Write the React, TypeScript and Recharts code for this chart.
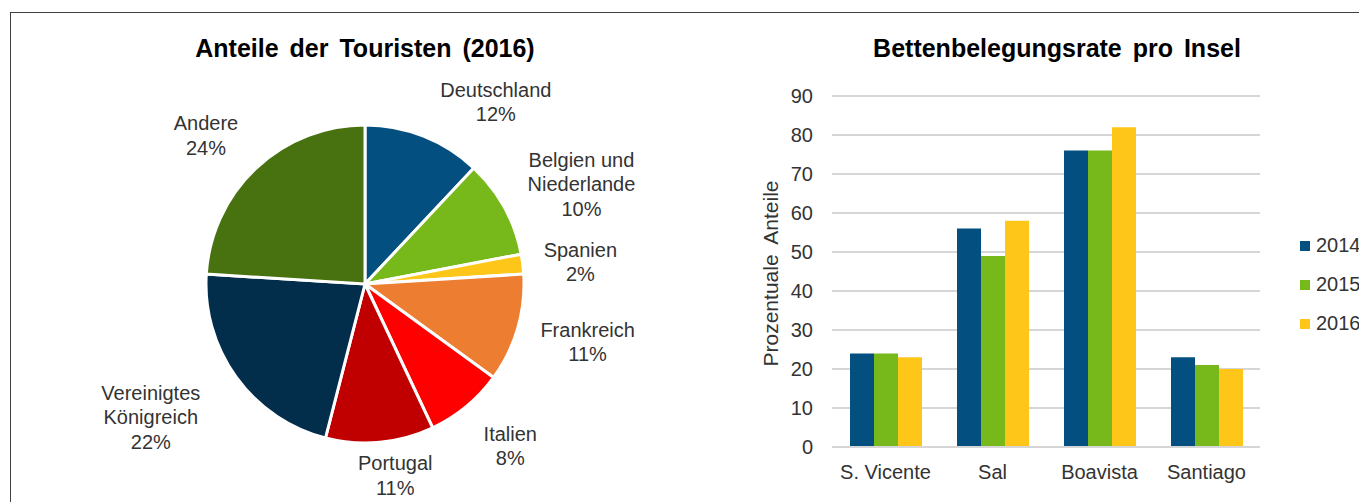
import React from 'react';
import { PieChart, Pie, Cell, BarChart, Bar, XAxis, YAxis, CartesianGrid, Legend } from 'recharts';

// Anteile der Touristen (2016)
const countries = [
  'Deutschland',
  'Belgien und\nNiederlande',
  'Spanien',
  'Frankreich',
  'Italien',
  'Portugal',
  'Vereinigtes\nKönigreich',
  'Andere'
];
const touristShares = [12, 10, 2, 11, 8, 11, 22, 24];
const countryColors = ['#034F80', '#77B81B', '#FFC61A', '#ED7D31', '#FF0000', '#C00000', '#022E4C', '#48720F'];

// Bettenbelegungsrate pro Insel
const islands = ['S. Vicente', 'Sal', 'Boavista', 'Santiago'];
const years = ['2014', '2015', '2016'];
const occupancy2014 = [24, 56, 76, 23];
const occupancy2015 = [24, 49, 76, 21];
const occupancy2016 = [23, 58, 82, 20];
const yearColors = ['#034F80', '#77B81B', '#FFC61A'];
const yTicks = [0, 10, 20, 30, 40, 50, 60, 70, 80, 90];

// small per-slice tweaks so labels sit like Excel's "best fit"
const labelNudge = [
  [42, 11],
  [5, 6],
  [-3, 4],
  [-4, 0],
  [5, 2],
  [9, -15],
  [-19, 4],
  [-12, 3]
];

const FONT = '"Liberation Sans", Arial, sans-serif';
const TEXT = '#333333';
const RADIAN = Math.PI / 180;

const pieData = countries.map((name, i) => ({ name, value: touristShares[i] }));
const seriesByYear = [occupancy2014, occupancy2015, occupancy2016];
const barData = islands.map((island, i) => {
  const row: { [key: string]: string | number } = { island };
  years.forEach((y, j) => {
    row[y] = seriesByYear[j][i];
  });
  return row;
});

const renderPieLabel = (props: any) => {
  const { cx, cy, midAngle, outerRadius, index, name, value } = props;
  const lines = [...String(name).split('\n'), `${value}%`];
  const cos = Math.cos(-midAngle * RADIAN);
  const sin = Math.sin(-midAngle * RADIAN);
  const r = outerRadius + 24;
  const maxLen = Math.max(...lines.map((l) => l.length));
  const hw = maxLen * 5.3;
  const hh = lines.length * 12.25;
  const [nx, ny] = labelNudge[index] || [0, 0];
  const x = cx + r * cos + cos * hw + nx;
  const y = cy + r * sin + sin * hh + ny;
  const lh = 24.5;
  return (
    <text
      key={`lbl-${index}`}
      x={x}
      y={y}
      textAnchor="middle"
      fill={TEXT}
      style={{ fontFamily: FONT, fontSize: 20 }}
    >
      {lines.map((l, i) => (
        <tspan key={i} x={x} y={y + (i - (lines.length - 1) / 2) * lh} dominantBaseline="central">
          {l}
        </tspan>
      ))}
    </text>
  );
};

const renderLegend = (props: any) => {
  const { payload = [] } = props;
  return (
    <div style={{ fontFamily: FONT, fontSize: 20, color: TEXT }}>
      {payload.map((entry: any) => (
        <div key={entry.value} style={{ display: 'flex', alignItems: 'center', height: 39, whiteSpace: 'nowrap' }}>
          <span style={{ width: 10, height: 10, background: entry.color, marginRight: 6, flex: 'none' }} />
          <span>{entry.value}</span>
        </div>
      ))}
    </div>
  );
};

const renderYLabel = (props: any) => {
  const vb = props.viewBox || { x: 0, y: 96, width: 92, height: 351 };
  const x = vb.x + 30;
  const y = vb.y + vb.height / 2 + 2;
  return (
    <text
      x={x}
      y={y}
      transform={`rotate(-90, ${x}, ${y})`}
      textAnchor="middle"
      dominantBaseline="central"
      fill={TEXT}
      style={{ fontFamily: FONT, fontSize: 21, wordSpacing: 5 }}
    >
      Prozentuale Anteile
    </text>
  );
};

const titleStyle: React.CSSProperties = {
  position: 'absolute',
  top: 33,
  transform: 'translateX(-50%)',
  whiteSpace: 'nowrap',
  fontFamily: FONT,
  fontWeight: 'bold',
  fontSize: 25,
  lineHeight: '30px',
  wordSpacing: 4,
  color: '#000'
};

export default function App() {
  return (
    <div
      style={{
        position: 'absolute',
        left: 0,
        top: 0,
        width: 1359,
        height: 502,
        overflow: 'hidden',
        background: '#fff'
      }}
    >
      <div
        style={{
          position: 'absolute',
          left: 10,
          top: 12,
          width: 1400,
          height: 600,
          border: '1px solid #404040'
        }}
      />
      <div style={{ ...titleStyle, left: 365 }}>Anteile der Touristen (2016)</div>
      <div style={{ ...titleStyle, left: 1057 }}>Bettenbelegungsrate pro Insel</div>

      <div style={{ position: 'absolute', left: 0, top: 0 }}>
        <PieChart width={740} height={502} margin={{ top: 0, right: 0, bottom: 0, left: 0 }}>
          <Pie
            data={pieData}
            dataKey="value"
            nameKey="name"
            cx={365}
            cy={284}
            outerRadius={159}
            startAngle={90}
            endAngle={-270}
            stroke="#fff"
            strokeWidth={3}
            label={renderPieLabel}
            labelLine={false}
            isAnimationActive={false}
          >
            {pieData.map((_, i) => (
              <Cell key={i} fill={countryColors[i]} />
            ))}
          </Pie>
        </PieChart>
      </div>

      <div style={{ position: 'absolute', left: 740, top: 0 }}>
        <BarChart
          width={700}
          height={502}
          data={barData}
          margin={{ top: 96, right: 120, bottom: 25, left: 0 }}
          barCategoryGap={18}
          barGap={0}
        >
          <CartesianGrid vertical={false} stroke="#d6d6d6" strokeWidth={2} />
          <XAxis
            dataKey="island"
            height={30}
            interval={0}
            tickSize={0}
            tickMargin={18}
            axisLine={{ stroke: '#d6d6d6', strokeWidth: 2 }}
            tick={{ fill: TEXT, fontSize: 20, fontFamily: FONT }}
          />
          <YAxis
            width={92}
            domain={[0, 90]}
            ticks={yTicks}
            axisLine={false}
            tickSize={0}
            tickMargin={19}
            tick={{ fill: TEXT, fontSize: 20, fontFamily: FONT }}
            label={{ content: renderYLabel }}
          />
          <Legend
            layout="vertical"
            align="right"
            verticalAlign="middle"
            content={renderLegend}
            wrapperStyle={{ left: 560, right: 'auto', top: 226, width: 60 }}
          />
          {years.map((y, j) => (
            <Bar key={y} dataKey={y} name={y} fill={yearColors[j]} isAnimationActive={false} />
          ))}
        </BarChart>
      </div>
    </div>
  );
}
